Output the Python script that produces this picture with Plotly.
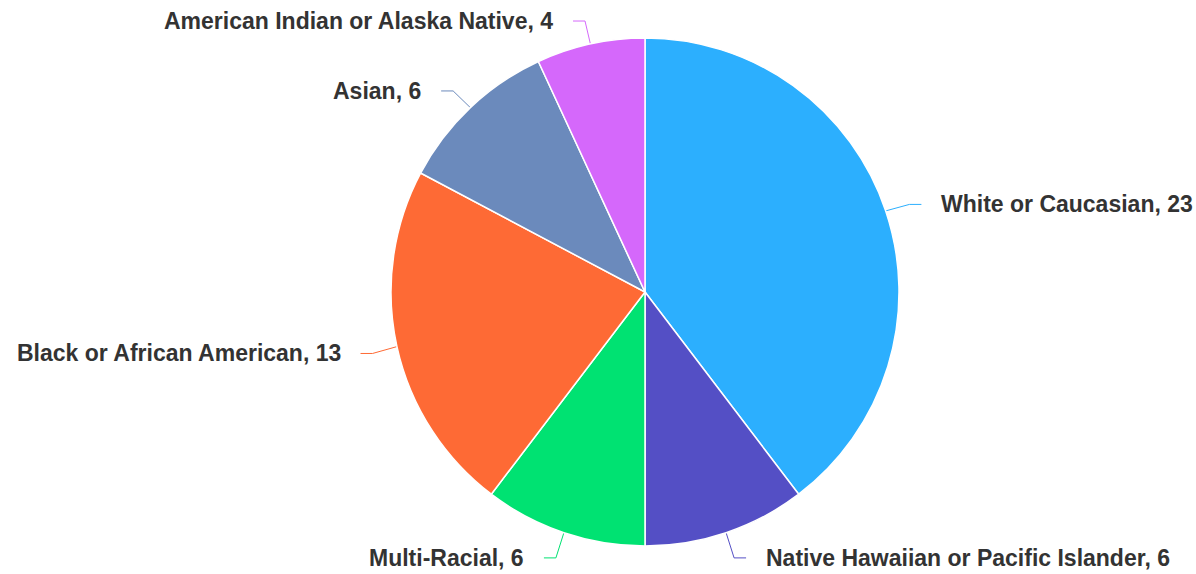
import math
import plotly.graph_objects as go

# Survey breakdown by race / ethnicity
categories = [
    "White or Caucasian",
    "Native Hawaiian or Pacific Islander",
    "Multi-Racial",
    "Black or African American",
    "Asian",
    "American Indian or Alaska Native",
]
counts = [23, 6, 6, 13, 6, 4]
colors = ["#2caffe", "#544fc5", "#00e272", "#fe6a35", "#6b8abc", "#d568fb"]

# Canvas and pie geometry (pixels)
W, H = 1196, 574
CX, CY, R = 645, 292, 254
LABEL_R = R + 25      # radius where the connector bends
STUB = 12             # horizontal connector stub
TEXT_OFFSET = 30      # distance from bend to label text

fig = go.Figure()

fig.add_trace(go.Pie(
    labels=categories,
    values=counts,
    sort=False,
    direction="clockwise",
    rotation=0,
    marker=dict(colors=colors, line=dict(color="white", width=1.5)),
    textinfo="none",
    hoverinfo="skip",
    showlegend=False,
    domain=dict(x=[(CX - R) / W, (CX + R) / W],
                y=[(H - CY - R) / H, (H - CY + R) / H]),
))

# Outside labels with crooked connector lines, placed from each slice's mid-angle
total = sum(counts)
cum = 0
for name, v, c in zip(categories, counts, colors):
    mid = (cum + v / 2) / total * 2 * math.pi
    cum += v
    s, co = math.sin(mid), math.cos(mid)
    ex, ey = CX + R * s, CY - R * co
    ly = CY - LABEL_R * co + 1.5
    kx = CX + LABEL_R * s
    side = 1 if s >= 0 else -1
    fig.add_trace(go.Scatter(
        x=[ex, kx, kx + side * STUB], y=[ey, ly, ly],
        mode="lines", line=dict(color=c, width=1),
        hoverinfo="skip", showlegend=False,
    ))
    fig.add_annotation(
        x=kx + side * TEXT_OFFSET, y=ly, xref="x", yref="y",
        text=f"{name}, {v}",
        xanchor="left" if side > 0 else "right", yanchor="middle",
        showarrow=False,
        font=dict(family="Liberation Sans, Arial, sans-serif", size=23,
                  color="#333333", weight="bold"),
    )

fig.update_layout(
    width=W, height=H,
    margin=dict(l=0, r=0, t=0, b=0),
    paper_bgcolor="white", plot_bgcolor="white",
    xaxis=dict(range=[0, W], visible=False, fixedrange=True),
    yaxis=dict(range=[H, 0], visible=False, fixedrange=True),
)

fig.write_html("out.html")
